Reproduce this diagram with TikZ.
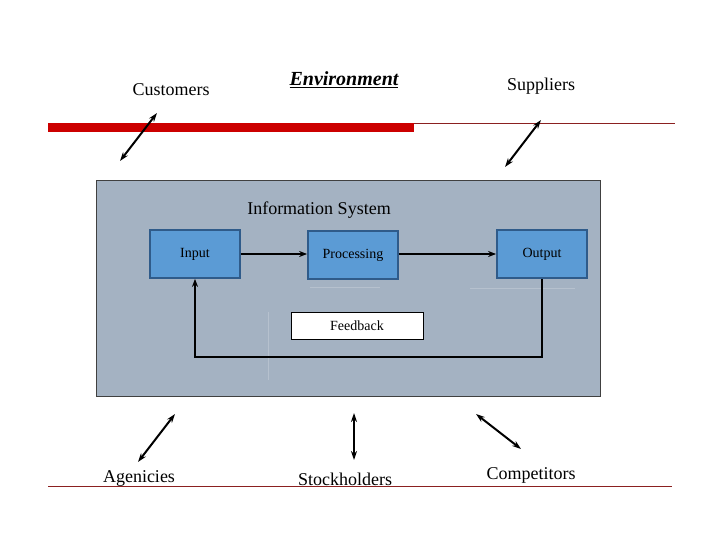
\documentclass[tikz,border=0pt]{standalone}
\usepackage{fontspec}
\setmainfont{Liberation Serif}
\usetikzlibrary{arrows.meta}
\definecolor{sysgray}{HTML}{A4B2C2}
\definecolor{boxblue}{HTML}{5B9BD5}
\definecolor{boxedge}{HTML}{2F5B8A}
\definecolor{barred}{HTML}{CC0000}
\definecolor{thinred}{HTML}{8B2020}
\tikzset{
  lbl/.style={inner sep=0pt, font=\fontsize{18}{20}\selectfont},
  dbl/.style={{Stealth[length=9pt,width=6pt]}-{Stealth[length=9pt,width=6pt]}, line width=2pt},
  blk/.style={draw=boxedge, line width=1.8pt, fill=boxblue, minimum width=90pt, minimum height=48pt, inner sep=0pt, font=\fontsize{14}{16}\selectfont},
  flow/.style={-{Stealth[length=8pt,width=6pt]}, line width=2pt},
  ghost/.style={draw=sysgray!80!white, line width=1pt}
}
\begin{document}
\begin{tikzpicture}[x=1pt,y=-1pt]
\useasboundingbox (0,0) rectangle (720,540);
\fill[white] (0,0) rectangle (720,540);
% rules
\fill[barred] (48,123) rectangle (414,132);
\draw[thinred, line width=0.8pt] (414,123) -- (675,123);
\draw[thinred, line width=0.8pt] (48,486) -- (672,486);
% top labels
\node[lbl] (cust) at (171,90) {Customers};
\node[lbl, font=\fontsize{20}{22}\selectfont\bfseries\itshape] (env) at (344,80) {\underline{Environment}};
\node[lbl] (supp) at (541,86) {Suppliers};
% system box
\node[draw=black!75, line width=0.8pt, fill=sysgray, minimum width=504pt, minimum height=216pt, inner sep=0pt] (sys) at (348,288) {};
\node[lbl] (systitle) at (319,210) {Information System};
% ghost lines
\draw[ghost] (268,312) -- (268,380);
\draw[ghost] (310,287) -- (380,287);
\draw[ghost] (470,288) -- (575,288);
% blocks
\node[blk] (in) at (195,254) {Input};
\node[blk] (proc) at (353,255) {Processing};
\node[blk] (out) at (542,254) {Output};
\node[draw=black, line width=0.8pt, fill=white, minimum width=132pt, minimum height=27pt, inner sep=0pt, font=\fontsize{14}{16}\selectfont] (fb) at (357,325.5) {Feedback};
\draw[flow] (in.east) -- (in.east -| proc.west);
\draw[flow] (proc.east |- out.west) -- (out.west);
\draw[flow, line width=1.4pt] (out.south) -- (out.south |- 0,357) -| (in.south);
% environment arrows
\coordinate (c1) at (157,113); \coordinate (c2) at (120,161);
\coordinate (s1) at (541,120); \coordinate (s2) at (505,167);
\coordinate (a1) at (175,414); \coordinate (a2) at (138,462);
\coordinate (k1) at (354,413); \coordinate (k2) at (354,460);
\coordinate (p1) at (476,414); \coordinate (p2) at (521,449);
\draw[dbl] (c1) -- (c2);
\draw[dbl] (s1) -- (s2);
\draw[dbl] (a1) -- (a2);
\draw[dbl] (k1) -- (k2);
\draw[dbl] (p1) -- (p2);
% bottom labels
\node[lbl] (agen) at (139,478) {Agenicies};
\node[lbl] (stock) at (345,479) {Stockholders};
\node[lbl] (comp) at (531,475) {Competitors};
\end{tikzpicture}
\end{document}
